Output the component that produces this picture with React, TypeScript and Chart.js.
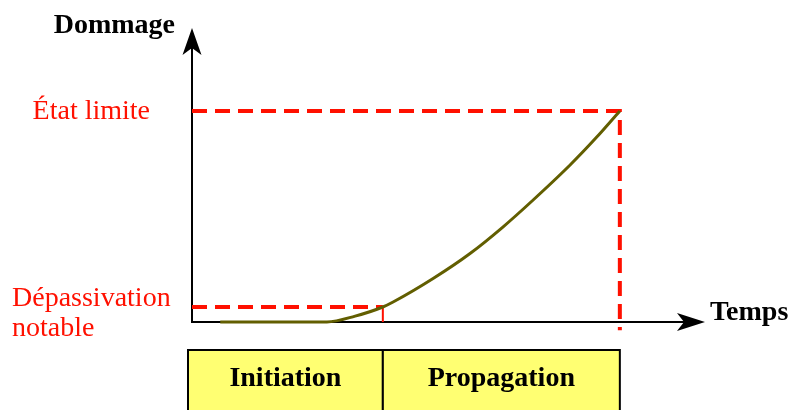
import React, { useEffect, useRef } from "react";
import { Chart, registerables } from "chart.js";

Chart.register(...registerables);

// Data (time units 0..100, damage units 0..100)
const curveTime = [5.5, 26.3, 31.8, 37.2, 39.2, 47.0, 54.2, 60.6, 66.5, 73.7, 78.9, 83.4];
const curveDamage = [0, 0, 2.0, 5.1, 6.8, 14.8, 23.3, 32.3, 41.5, 53.4, 62.9, 71.8];

const initiationEnd = 37.2;
const propagationEnd = 83.4;
const depassivationLevel = 5.1;
const limitLevel = 71.8;

const phaseNames = ["Initiation", "Propagation"];
const phaseBounds = [0, initiationEnd, propagationEnd];

const yAxisTitle = "Dommage";
const xAxisTitle = "Temps";
const limitLabel = ["État limite"];
const depassLabel = ["Dépassivation", "notable"];

const RED = "#ff1000";
const SERIF = "'Liberation Serif', 'Times New Roman', serif";

const overlayPlugin = {
  id: "overlay",
  beforeDatasetsDraw(chart: any) {
    const { ctx, scales } = chart;
    const xs = scales.x;
    const ys = scales.y;
    const x0 = xs.getPixelForValue(0);
    const y0 = ys.getPixelForValue(0);
    const xEnd = xs.getPixelForValue(100);
    const yEnd = ys.getPixelForValue(100);
    ctx.save();
    ctx.strokeStyle = "#000";
    ctx.fillStyle = "#000";
    ctx.lineWidth = 2;
    ctx.beginPath();
    ctx.moveTo(x0, y0 + 1);
    ctx.lineTo(x0, yEnd + 18);
    ctx.moveTo(x0 - 1, y0);
    ctx.lineTo(xEnd - 18, y0);
    ctx.stroke();
    // y arrow head
    ctx.beginPath();
    ctx.moveTo(x0, yEnd);
    ctx.lineTo(x0 - 9.5, yEnd + 27);
    ctx.lineTo(x0, yEnd + 20);
    ctx.lineTo(x0 + 9.5, yEnd + 27);
    ctx.closePath();
    ctx.fill();
    // x arrow head
    ctx.beginPath();
    ctx.moveTo(xEnd, y0);
    ctx.lineTo(xEnd - 28, y0 - 9);
    ctx.lineTo(xEnd - 21, y0);
    ctx.lineTo(xEnd - 28, y0 + 9);
    ctx.closePath();
    ctx.fill();
    ctx.restore();
  },
  afterDraw(chart: any) {
    const { ctx, scales } = chart;
    const xs = scales.x;
    const ys = scales.y;
    const x0 = xs.getPixelForValue(0);
    const y0 = ys.getPixelForValue(0);
    const xEnd = xs.getPixelForValue(100);
    const yEnd = ys.getPixelForValue(100);
    ctx.save();
    ctx.fillStyle = "#000";
    ctx.font = `bold 28px ${SERIF}`;
    ctx.textBaseline = "alphabetic";
    ctx.textAlign = "right";
    ctx.fillText(yAxisTitle, x0 - 17, yEnd + 5);
    ctx.textAlign = "left";
    ctx.fillText(xAxisTitle, xEnd + 5, y0 - 2);
    ctx.fillStyle = RED;
    ctx.font = `28px ${SERIF}`;
    const yl = ys.getPixelForValue(limitLevel);
    ctx.textAlign = "right";
    limitLabel.forEach((t, i) => ctx.fillText(t, x0 - 42, yl + 8 + i * 30));
    const yd = ys.getPixelForValue(depassivationLevel);
    ctx.textAlign = "left";
    depassLabel.forEach((t, i) => ctx.fillText(t, 12, yd - 1 + i * 30));
    const boxTop = y0 + 28;
    const boxBottom = chart.height + 10;
    for (let i = 0; i < phaseNames.length; i++) {
      const left = i === 0 ? xs.getPixelForValue(phaseBounds[i]) - 4 : xs.getPixelForValue(phaseBounds[i]);
      const right = xs.getPixelForValue(phaseBounds[i + 1]);
      ctx.fillStyle = "#ffff72";
      ctx.fillRect(left, boxTop, right - left, boxBottom - boxTop);
      ctx.strokeStyle = "#000";
      ctx.lineWidth = 2;
      ctx.strokeRect(left, boxTop, right - left, boxBottom - boxTop);
      ctx.fillStyle = "#000";
      ctx.font = `bold 28px ${SERIF}`;
      ctx.textAlign = "center";
      ctx.fillText(phaseNames[i], (left + right) / 2, boxTop + 36);
    }
    ctx.restore();
  },
};

export default function App() {
  const ref = useRef<HTMLCanvasElement | null>(null);
  useEffect(() => {
    if (!ref.current) return;
    const pts = curveTime.map((t, i) => ({ x: t, y: curveDamage[i] }));
    const chart = new Chart(ref.current, {
      type: "line",
      data: {
        datasets: [
          {
            label: "limit",
            data: [
              { x: 0, y: limitLevel },
              { x: propagationEnd, y: limitLevel },
              { x: propagationEnd, y: -2.8 },
            ],
            borderColor: RED,
            borderWidth: 4,
            borderDash: [15, 8],
            pointRadius: 0,
            fill: false,
            clip: false as any,
            tension: 0,
            order: 3,
          },
          {
            label: "depass",
            data: [
              { x: 0, y: depassivationLevel },
              { x: initiationEnd, y: depassivationLevel },
            ],
            borderColor: RED,
            borderWidth: 4,
            borderDash: [15, 8],
            pointRadius: 0,
            fill: false,
            tension: 0,
            order: 3,
          },
          {
            label: "tick",
            data: [
              { x: initiationEnd, y: depassivationLevel },
              { x: initiationEnd, y: 0 },
            ],
            borderColor: RED,
            borderWidth: 2,
            pointRadius: 0,
            fill: false,
            tension: 0,
            order: 2,
          },
          {
            label: "Dommage",
            data: pts,
            borderColor: "#625e00",
            borderWidth: 3,
            pointRadius: 0,
            fill: false,
            cubicInterpolationMode: "monotone",
            clip: false as any,
            order: 1,
          },
        ],
      },
      options: {
        animation: false,
        responsive: false,
        maintainAspectRatio: false,
        layout: { padding: { left: 192, right: 85, top: 28, bottom: 88 } },
        plugins: { legend: { display: false }, tooltip: { enabled: false }, title: { display: false } },
        scales: {
          x: { type: "linear", min: 0, max: 100, display: false },
          y: { type: "linear", min: 0, max: 100, display: false },
        },
      },
      plugins: [overlayPlugin],
    });
    return () => chart.destroy();
  }, []);
  return (
    <div style={{ position: "absolute", left: 0, top: 0, width: 790, height: 410, background: "#fff" }}>
      <canvas ref={ref} width={790} height={410} style={{ display: "block" }} />
    </div>
  );
}
